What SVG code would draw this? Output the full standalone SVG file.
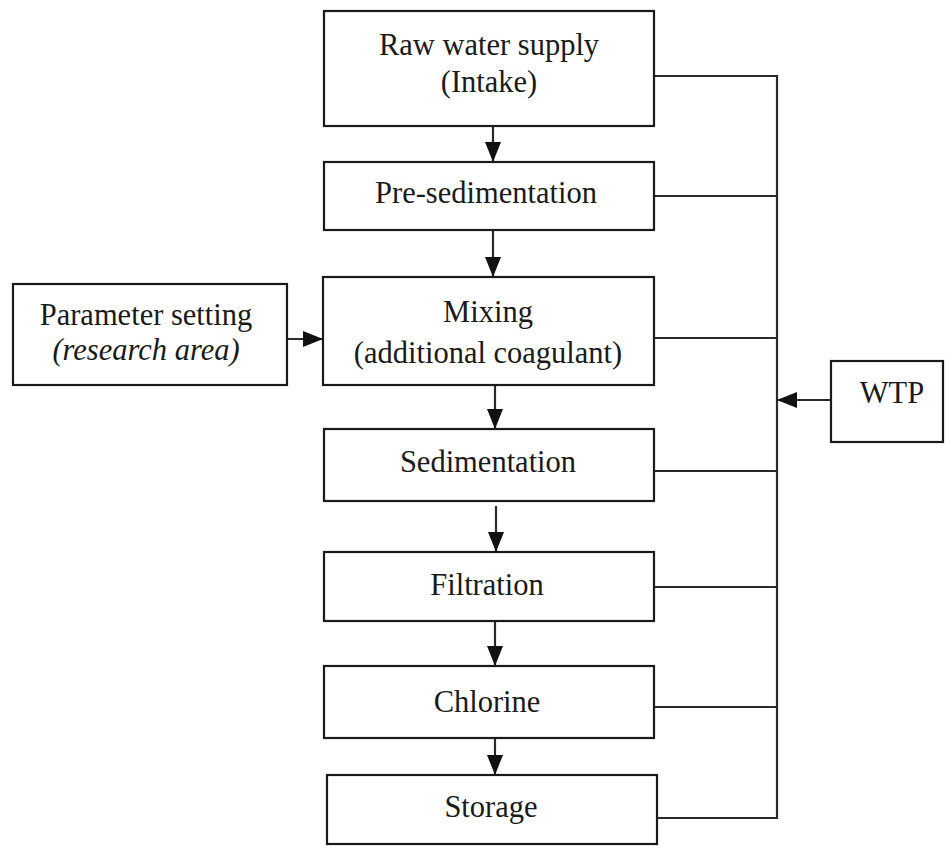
<svg xmlns="http://www.w3.org/2000/svg" width="945" height="849" viewBox="0 0 945 849">
<style>
.box{fill:#fff;stroke:#1a1a1a;stroke-width:2.2}
.t{font-family:"Liberation Serif","Times New Roman",serif;font-size:30.5px;fill:#1a1a1a;text-anchor:middle}
.i{font-style:italic}
.ln{fill:none;stroke:#2a2a2a;stroke-width:2.2}
</style>
<defs>
<marker id="ahb" markerWidth="20" markerHeight="18" refX="20" refY="9" orient="auto" markerUnits="userSpaceOnUse" viewBox="0 0 20 18">
<path d="M0,1 L20,9 L0,17 Z" fill="#111"/>
</marker>
</defs>
<rect width="945" height="849" fill="#fff"/>
<g id="connectors">
<line class="ln" x1="493" y1="126" x2="493" y2="162" marker-end="url(#ahb)"/>
<line class="ln" x1="493" y1="230" x2="493" y2="277" marker-end="url(#ahb)"/>
<line class="ln" x1="287" y1="339" x2="323" y2="339" marker-end="url(#ahb)"/>
<line class="ln" x1="495" y1="385" x2="495" y2="429" marker-end="url(#ahb)"/>
<line class="ln" x1="496" y1="506" x2="496" y2="552" marker-end="url(#ahb)"/>
<line class="ln" x1="495" y1="621" x2="495" y2="666" marker-end="url(#ahb)"/>
<line class="ln" x1="495" y1="738" x2="495" y2="775" marker-end="url(#ahb)"/>
<polyline class="ln" points="654,76 777,76 777,818 657,818"/>
<line class="ln" x1="654" y1="196" x2="777" y2="196"/>
<line class="ln" x1="654" y1="338" x2="777" y2="338"/>
<line class="ln" x1="654" y1="471" x2="777" y2="471"/>
<line class="ln" x1="654" y1="587" x2="777" y2="587"/>
<line class="ln" x1="654" y1="707" x2="777" y2="707"/>
<line class="ln" x1="831" y1="400" x2="777" y2="400" marker-end="url(#ahb)"/>
</g>
<g id="raw">
<rect class="box" x="324" y="11" width="330" height="115"/>
<text class="t" x="489" y="55">Raw water supply</text>
<text class="t" x="489" y="92">(Intake)</text>
</g>
<g id="presed">
<rect class="box" x="324" y="162" width="330" height="68"/>
<text class="t" x="486" y="203">Pre-sedimentation</text>
</g>
<g id="param">
<rect class="box" x="13" y="284" width="274" height="101"/>
<text class="t" x="146" y="325">Parameter setting</text>
<text class="t i" x="146" y="360">(research area)</text>
</g>
<g id="mixing">
<rect class="box" x="323" y="277" width="331" height="108"/>
<text class="t" x="488" y="322">Mixing</text>
<text class="t" x="488" y="363">(additional coagulant)</text>
</g>
<g id="sed">
<rect class="box" x="324" y="429" width="330" height="72"/>
<text class="t" x="488" y="472">Sedimentation</text>
</g>
<g id="filt">
<rect class="box" x="324" y="552" width="330" height="69"/>
<text class="t" x="487" y="595">Filtration</text>
</g>
<g id="chlor">
<rect class="box" x="324" y="666" width="330" height="72"/>
<text class="t" x="487" y="712">Chlorine</text>
</g>
<g id="storage">
<rect class="box" x="327" y="775" width="330" height="69"/>
<text class="t" x="491" y="817">Storage</text>
</g>
<g id="wtp">
<rect class="box" x="831" y="361" width="112" height="81"/>
<text class="t" x="892" y="403">WTP</text>
</g>
</svg>
